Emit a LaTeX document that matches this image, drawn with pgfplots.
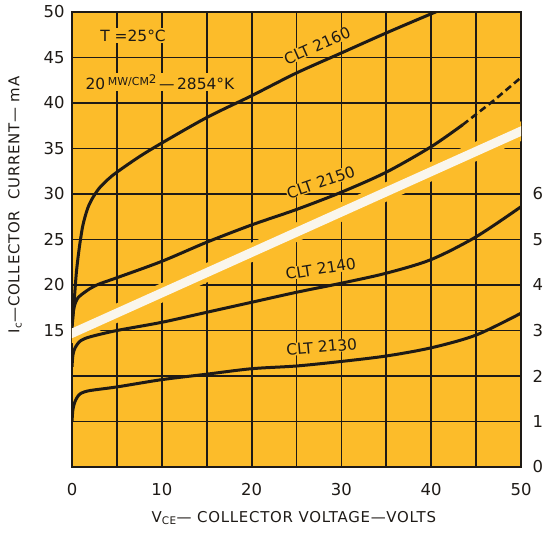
\documentclass[border=0pt]{standalone}
\usepackage{pgfplots}
\pgfplotsset{compat=1.18}
\usepackage{fontspec}
\setmainfont{DejaVu Sans}
\newfontfamily\labfont{DejaVu Sans}[LetterSpace=5]
\definecolor{chartyellow}{RGB}{252,188,42}
\definecolor{ink}{RGB}{30,26,22}
\definecolor{stripe}{RGB}{250,246,236}
\newcommand{\tickfont}{\fontsize{16.5}{16.5}\selectfont}
\newcommand{\annfont}{\fontsize{15.5}{15.5}\selectfont}
\begin{document}
\begin{tikzpicture}
\begin{axis}[name=ax, scale only axis, width=449bp, height=455bp,
  xmin=0, xmax=50, ymin=0, ymax=50,
  axis background/.style={fill=chartyellow},
  axis line style={draw=ink, line width=2.2bp},
  xtick={0,5,...,50}, xticklabels={0,,10,,20,,30,,40,,50},
  ytick={0,5,...,50}, yticklabels={,,,15,20,25,30,35,40,45,50},
  grid=major, major grid style={draw=ink, line width=1.8bp},
  tick style={draw=none},
  /pgf/number format/assume math mode=true,
  ticklabel style={font=\tickfont, text=ink},
  xticklabel style={yshift=-13bp},
  yticklabel style={xshift=-4bp},
  every axis x label/.style={at={(rel axis cs:0.494,0)}, yshift=-51bp, anchor=center, font=\labfont\fontsize{15}{15}\selectfont, text=ink},
  every axis y label/.style={at={(rel axis cs:0,0.576)}, xshift=-57bp, rotate=90, anchor=center, font=\labfont\fontsize{15}{15}\selectfont, text=ink},
  xlabel={V\textsubscript{CE}— COLLECTOR VOLTAGE—VOLTS},
  ylabel={I\textsubscript{c}—COLLECTOR\ \ CURRENT— mA},
  clip=true,
]
% halo round the white stripe
\addplot[chartyellow, line width=18bp, forget plot] coordinates {(-1,14.25) (51,37.35)};
% CLT 2160
\addplot[ink, line width=3bp, smooth] coordinates {
(0,15.3) (0.15,17) (0.3,19) (0.5,21.5) (0.8,24) (1.2,26.5) (1.7,28.3) (2.2,29.4) (3,30.6) (4,31.6) (5,32.4) (7.5,34.1) (10,35.6) (15,38.4) (20,40.8) (25,43.3) (30,45.5) (35,47.7) (40,49.8) (42,50.6)};
% CLT 2150
\addplot[ink, line width=3bp, smooth] coordinates {
(0,15.5) (0.1,16.8) (0.3,17.8) (0.6,18.5) (1,18.9) (2,19.6) (3,20.1) (5,20.8) (10,22.6) (15,24.7) (20,26.6) (25,28.3) (30,30.2) (35,32.4) (40,35.2) (43.5,37.6)};
\addplot[ink, line width=2.6bp, dash pattern=on 7bp off 4bp] coordinates {
(43.5,37.6) (47,40.3) (50,42.8)};
% CLT 2140
\addplot[ink, line width=3bp, smooth] coordinates {
(0,11) (0.1,12.3) (0.3,13.0) (0.6,13.5) (1,13.9) (2,14.3) (5,15.0) (10,15.9) (15,17.0) (20,18.1) (25,19.2) (30,20.2) (35,21.3) (40,22.8) (45,25.3) (50,28.6)};
% CLT 2130
\addplot[ink, line width=3bp, smooth] coordinates {
(0,5) (0.1,6.3) (0.3,7.1) (0.6,7.7) (1,8.1) (2,8.4) (5,8.8) (10,9.6) (15,10.2) (20,10.8) (25,11.1) (30,11.6) (35,12.2) (40,13.1) (45,14.5) (50,16.9)};
% white stripe
\addplot[stripe, line width=9bp] coordinates {(-1,14.25) (51,37.35)};
% labels
\node[rotate=24, fill=chartyellow, inner sep=0.5bp, text=ink, font=\annfont] at (axis cs:27.3,46.3) {CLT 2160};
\node[rotate=19, fill=chartyellow, inner sep=0.5bp, text=ink, font=\annfont] at (axis cs:27.7,31.3) {CLT 2150};
\node[rotate=9, fill=chartyellow, inner sep=0.5bp, text=ink, font=\annfont] at (axis cs:27.7,21.8) {CLT 2140};
\node[rotate=5, fill=chartyellow, inner sep=0.5bp, text=ink, font=\annfont] at (axis cs:27.8,13.2) {CLT 2130};
\node[fill=chartyellow, inner sep=1.5bp, text=ink, font=\annfont] at (axis cs:6.8,47.4) {T =25°C};
\node[fill=chartyellow, inner sep=1.5bp, text=ink, font=\annfont] at (axis cs:9.8,42.3) {20\,\raisebox{0.25em}{\fontsize{11}{11}\selectfont MW/CM}\raisebox{0.4em}{\fontsize{12}{12}\selectfont 2}\,—\,2854°K};
\end{axis}
\begin{axis}[scale only axis, width=449bp, height=455bp,
  xmin=0, xmax=50, ymin=0, ymax=10,
  hide x axis, axis y line*=right, axis line style={draw=none},
  ytick={0,...,6}, tick style={draw=none},
  /pgf/number format/assume math mode=true,
  yticklabel style={font=\tickfont, text=ink, xshift=8bp},
]
\end{axis}
\pgfresetboundingbox
\path[use as bounding box] ([xshift=-72bp,yshift=-68bp]ax.south west) rectangle ([xshift=24bp,yshift=12bp]ax.north east);
\end{tikzpicture}
\end{document}
